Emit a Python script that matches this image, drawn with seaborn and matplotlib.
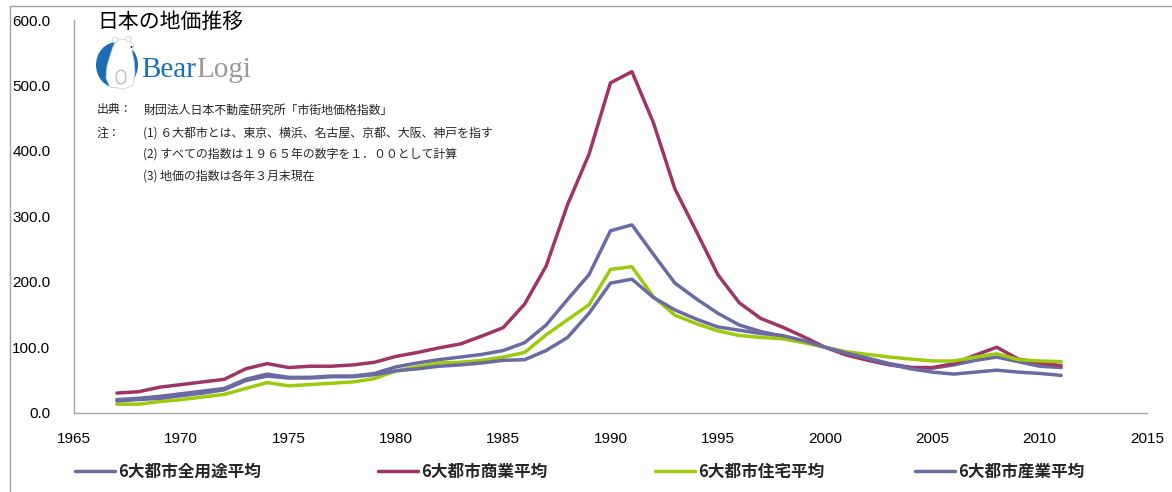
import numpy as np
import pandas as pd
import matplotlib
matplotlib.use("Agg")
import matplotlib.pyplot as plt
from matplotlib.patches import Rectangle, Ellipse, Polygon, Circle
from matplotlib.lines import Line2D
from matplotlib.font_manager import FontProperties
import seaborn as sns

# ---- data: urban land price index of the six major cities (1965 = 1.00 -> 100) ----
years = list(range(1967, 2012))

all_use = [20, 22, 25, 29, 33, 37, 51, 59, 54, 54, 56, 56, 60, 70, 76, 81, 85, 89, 95,
           107, 134, 173, 211, 278, 287, 242, 198, 174, 152, 134, 124, 117, 109, 100,
           91, 83, 75, 69, 68, 73, 80, 85, 78, 71, 69]
commercial = [30, 32, 39, 43, 47, 51, 67, 75, 69, 71, 71, 73, 77, 86, 92, 99, 105, 117, 130,
              166, 224, 318, 395, 504, 521, 443, 342, 277, 211, 168, 144, 131, 116, 100,
              88, 80, 73, 69, 69, 75, 88, 100, 82, 76, 72]
residential = [13, 13, 17, 20, 24, 28, 37, 46, 41, 43, 45, 47, 52, 64, 70, 76, 77, 80, 85,
               92, 119, 142, 165, 219, 223, 177, 149, 136, 125, 118, 115, 113, 107, 100,
               93, 89, 85, 82, 79, 79, 85, 90, 81, 79, 78]
industrial = [18, 20, 22, 26, 30, 35, 49, 56, 53, 53, 55, 55, 58, 64, 67, 71, 73, 76, 80,
              81, 95, 115, 152, 198, 204, 176, 157, 143, 131, 126, 121, 118, 110, 100,
              91, 83, 74, 67, 62, 59, 62, 65, 62, 60, 57]

series_names = ["6大都市全用途平均", "6大都市商業平均", "6大都市住宅平均", "6大都市産業平均"]
series_values = [all_use, commercial, residential, industrial]
series_colors = ["#6B6BA3", "#9E3566", "#9BCB0C", "#6B6BA3"]

y_ticks = [0, 100, 200, 300, 400, 500, 600]
x_ticks = [1965, 1970, 1975, 1980, 1985, 1990, 1995, 2000, 2005, 2010, 2015]

title_text = "日本の地価推移"
source_label = "出典："
source_text = "財団法人日本不動産研究所「市街地価格指数」"
note_label = "注："
note_lines = [
    "(1) ６大都市とは、東京、横浜、名古屋、京都、大阪、神戸を指す",
    "(2) すべての指数は１９６５年の数字を１．００として計算",
    "(3) 地価の指数は各年３月末現在",
]

df = pd.DataFrame({
    "年": years * len(series_names),
    "指数": sum(series_values, []),
    "系列": np.repeat(series_names, len(years)),
})

sns.set_theme(style="white")
plt.rcParams["font.family"] = ["Liberation Sans", "Noto Sans CJK JP", "DejaVu Sans"]
CJK = ["Noto Sans CJK JP", "DejaVu Sans"]

W, H = 1172, 492
fig = plt.figure(figsize=(W / 100, H / 100), dpi=100)
fig.patch.set_facecolor("white")

# decoration layer in pixel coordinates (frame, title, logo, notes)
deco = fig.add_axes([0, 0, 1, 1])
deco.set_xlim(0, W)
deco.set_ylim(H, 0)
deco.axis("off")

# main plot area
ax = fig.add_axes([74 / W, 1 - 412.7 / H, (1147 - 74) / W, (412.7 - 20) / H])
ax.patch.set_alpha(0)

sns.lineplot(
    data=df, x="年", y="指数", hue="系列", hue_order=series_names,
    palette=dict(zip(series_names, series_colors)),
    estimator=None, sort=False, linewidth=2.5, legend=False, ax=ax,
)

ax.set_xlim(1965, 2015)
ax.set_ylim(0, 600)
ax.set_xticks(x_ticks)
ax.set_yticks(y_ticks)
ax.set_xticklabels([str(t) for t in x_ticks], fontsize=11)
ax.set_yticklabels([f"{t:.1f}" for t in y_ticks], fontsize=11)
ax.tick_params(axis="y", length=0, pad=17, colors="black")
ax.tick_params(axis="x", length=0, pad=14, colors="black")
ax.set_xlabel("")
ax.set_ylabel("")
for side in ["top", "right"]:
    ax.spines[side].set_visible(False)
for side in ["left", "bottom"]:
    ax.spines[side].set_color("#A6A6A6")
    ax.spines[side].set_linewidth(1.0)
ax.grid(False)

# outer chart frame
deco.add_patch(Rectangle((10, 6), W + 20, H + 20, fill=False, edgecolor="#A0A0A0", linewidth=1.0))

# title
deco.text(97, 22, title_text, fontsize=15, family=CJK, ha="left", va="center", color="black")

# logo: blue disc with a white bear, then the word mark
blue = "#1B6DB8"
deco.add_patch(Ellipse((117, 65), 42, 46, facecolor=blue, edgecolor="none"))
bear = [(113, 47), (110, 56), (107, 66), (106, 78), (110, 87), (124, 89), (133, 85),
        (135, 73), (134, 60), (132, 52), (134, 45), (130, 40), (117, 39)]
deco.add_patch(Polygon(bear, closed=True, facecolor="white", edgecolor="#D0D0D0", linewidth=0.6))
deco.add_patch(Circle((115, 40), 2.8, facecolor="white", edgecolor="#D0D0D0", linewidth=0.6))
deco.add_patch(Circle((128.5, 39), 2.8, facecolor="white", edgecolor="#D0D0D0", linewidth=0.6))
deco.add_patch(Ellipse((121, 77), 10, 14, facecolor="white", edgecolor="#A8A8A8", linewidth=0.7))
deco.add_patch(Circle((131.5, 47), 1.0, facecolor="#333333", edgecolor="none"))
word_bear = deco.text(141, 77, "Bear", fontsize=21, family="Liberation Serif", color=blue,
                      ha="left", va="baseline")
fig.canvas.draw()
bb = word_bear.get_window_extent()
x_logi = deco.transData.inverted().transform((bb.x1, bb.y0))[0]
deco.text(x_logi, 77, "Logi", fontsize=21, family="Liberation Serif", color="#9A9A9A",
          ha="left", va="baseline")

# source and notes
note_size = 8.6
deco.text(97, 110, source_label, fontsize=note_size, family=CJK, va="center", ha="left")
deco.text(144, 110, source_text, fontsize=note_size, family=CJK, va="center", ha="left")
deco.text(97, 133, note_label, fontsize=note_size, family=CJK, va="center", ha="left")
for i, line in enumerate(note_lines):
    deco.text(143, 133 + i * 21.5, line, fontsize=note_size, family=CJK, va="center", ha="left")

# legend along the bottom, one entry per slot
legend_x = [75, 378, 655, 915]
legend_font = FontProperties(family=CJK, size=12, weight="bold")
for name, color, lx in zip(series_names, series_colors, legend_x):
    fig.legend(
        [Line2D([0], [0], color=color, linewidth=2.5)], [name], loc="center left",
        bbox_to_anchor=(lx / W, 1 - 472 / H), frameon=False,
        handlelength=2.4, handletextpad=0.2, borderpad=0, borderaxespad=0,
        prop=legend_font,
    )

fig.savefig("out.png", dpi=100, facecolor="white")
